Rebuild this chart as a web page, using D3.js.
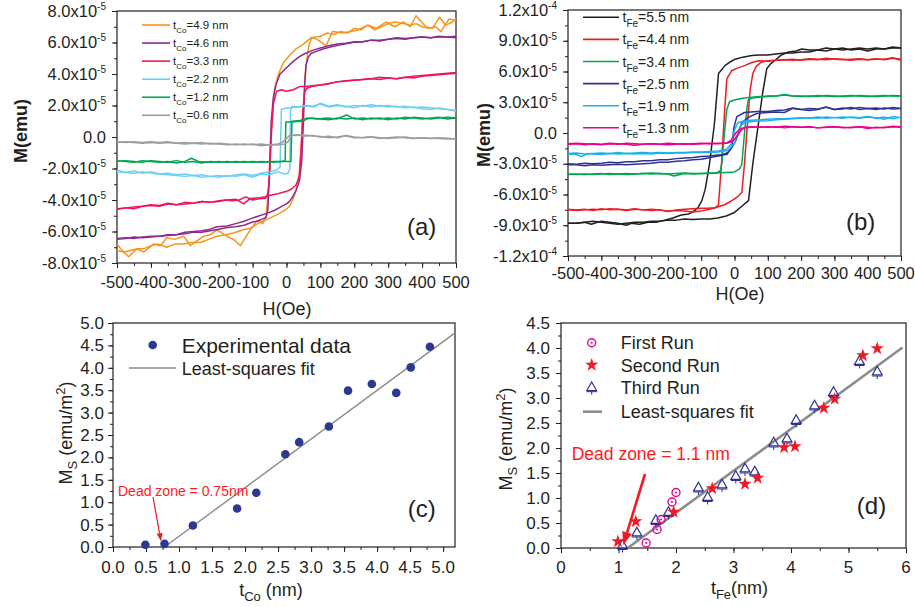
<!DOCTYPE html>
<html><head><meta charset="utf-8">
<script src="https://cdn.jsdelivr.net/npm/d3@7"></script>
<style>
body{margin:0;background:#fff;}
svg{display:block;font-family:"Liberation Sans",Arial,sans-serif;}
</style></head><body>
<svg id="chart" width="915" height="607"></svg>
<script>
// ---------------- Panel (a): M (1e-5 emu) vs H (Oe), Co thickness series ----------------
const aSeriesNames = ["4.9","4.6","3.3","2.2","1.2","0.6"];
const aColors = ["#f7941d","#8e2a8f","#ee1559","#6dcff6","#00a651","#9d9d9d"];
const a49Down = [[500,7.4],[480,7.5],[455,6.7],[440,7.0],[420,6.9],[400,7.0],[382,7.2],[365,7.1],[345,7.2],[320,7.3],[300,7.2],[280,7.0],[260,6.8],[240,7.1],[220,6.8],[200,6.9],[180,6.6],[160,6.7],[140,6.5],[120,6.6],[100,6.4],[72,6.3],[50,5.9],[28,5.6],[10,5.2],[-10,4.7],[-25,3.9],[-35,3.1],[-45,0.5],[-52,-3.0],[-60,-5.0],[-70,-5.5],[-87,-5.3],[-107,-5.9],[-136,-6.9],[-156,-6.5],[-176,-6.3],[-205,-5.9],[-225,-6.2],[-244,-6.3],[-264,-6.6],[-284,-6.9],[-303,-6.3],[-330,-6.5],[-353,-6.4],[-372,-6.9],[-392,-6.8],[-421,-7.3],[-441,-7.1],[-466,-7.6],[-485,-7.2],[-500,-6.8]];
const a49Up = [[-500,-7.2],[-480,-7.3],[-460,-7.2],[-440,-7.1],[-421,-7.1],[-400,-6.9],[-380,-6.8],[-353,-7.0],[-330,-6.8],[-303,-6.8],[-280,-6.7],[-254,-6.7],[-230,-6.5],[-205,-6.3],[-180,-6.2],[-156,-6.1],[-130,-5.9],[-107,-5.8],[-85,-5.5],[-65,-5.3],[-45,-5.1],[-25,-4.9],[-1,-4.6],[9,-4.4],[20,-3.9],[28,-3.4],[38,-2.3],[43,-0.6],[48,1.2],[55,4.0],[62,5.3],[67,5.9],[75,6.3],[90,6.2],[117,5.8],[136,6.7],[166,6.6],[190,6.7],[210,6.8],[240,7.1],[265,6.9],[293,7.3],[320,7.0],[345,7.3],[365,7.0],[382,7.7],[411,7.0],[431,6.9],[451,7.6],[470,7.1],[490,7.3],[500,7.5]];
const a46Down = [[500,6.4],[475,6.35],[450,6.4],[425,6.3],[400,6.35],[375,6.3],[350,6.25],[325,6.3],[300,6.2],[275,6.15],[250,6.15],[225,6.05],[200,6.05],[175,5.95],[150,5.9],[125,5.8],[100,5.65],[77,5.5],[55,5.3],[38,5.1],[20,4.8],[0,4.4],[-19,4.0],[-30,3.4],[-39,2.5],[-45,1.0],[-50,-2.0],[-55,-4.6],[-60,-5.1],[-70,-5.2],[-87,-5.35],[-100,-5.4],[-125,-5.6],[-150,-5.7],[-175,-5.75],[-200,-5.85],[-225,-5.95],[-250,-6.05],[-275,-6.05],[-300,-6.15],[-325,-6.2],[-350,-6.25],[-375,-6.3],[-400,-6.35],[-425,-6.4],[-450,-6.35],[-475,-6.45],[-500,-6.5]];
const a46Up = [[-500,-6.45],[-475,-6.4],[-450,-6.45],[-425,-6.35],[-400,-6.3],[-375,-6.3],[-350,-6.2],[-325,-6.2],[-300,-6.05],[-275,-6.0],[-250,-5.95],[-225,-5.85],[-205,-5.7],[-175,-5.65],[-150,-5.5],[-125,-5.35],[-107,-5.2],[-80,-5.0],[-58,-4.85],[-35,-4.65],[-18,-4.45],[0,-4.25],[8,-4.1],[18,-3.8],[28,-3.4],[38,-2.8],[45,-1.5],[50,1.0],[54,3.5],[58,4.6],[65,5.1],[72,5.3],[90,5.45],[110,5.6],[135,5.75],[160,5.85],[195,6.0],[225,6.05],[250,6.15],[275,6.1],[300,6.2],[325,6.25],[350,6.2],[375,6.3],[400,6.35],[425,6.3],[450,6.35],[475,6.35],[500,6.3]];
const a33Down = [[500,4.1],[475,4.05],[450,4.0],[425,3.95],[400,3.9],[375,3.85],[350,3.8],[325,3.7],[300,3.75],[275,3.8],[250,3.7],[225,3.65],[200,3.6],[175,3.55],[150,3.5],[125,3.4],[100,3.3],[75,3.25],[55,3.2],[38,3.2],[20,3.0],[0,2.9],[-15,3.0],[-29,2.9],[-39,2.1],[-45,0.0],[-50,-2.5],[-55,-3.6],[-62,-3.9],[-77,-3.9],[-100,-4.0],[-120,-3.8],[-140,-4.0],[-160,-4.05],[-180,-4.0],[-200,-4.1],[-225,-4.15],[-250,-4.1],[-275,-4.2],[-300,-4.25],[-325,-4.3],[-350,-4.2],[-375,-4.35],[-400,-4.3],[-425,-4.4],[-450,-4.45],[-475,-4.5],[-500,-4.55]];
const a33Up = [[-500,-4.6],[-475,-4.5],[-450,-4.55],[-425,-4.4],[-402,-4.35],[-375,-4.4],[-350,-4.25],[-325,-4.3],[-300,-4.15],[-275,-4.2],[-250,-4.1],[-225,-4.15],[-200,-4.05],[-175,-4.0],[-150,-3.95],[-126,-4.25],[-107,-3.9],[-80,-3.85],[-60,-3.8],[-48,-3.7],[-25,-3.6],[0,-3.45],[15,-3.3],[28,-3.05],[38,-2.5],[44,-0.5],[48,1.5],[53,2.8],[60,3.1],[75,3.2],[97,3.3],[120,3.35],[147,3.5],[170,3.55],[195,3.6],[225,3.65],[250,3.7],[275,3.65],[300,3.75],[325,3.7],[350,3.8],[375,3.75],[400,3.85],[425,3.9],[450,3.95],[475,4.0],[500,4.05]];
const a22Down = [[500,1.7],[475,1.75],[450,1.85],[425,1.75],[400,1.8],[375,1.9],[350,1.85],[325,1.95],[300,1.9],[275,2.0],[250,1.9],[225,2.0],[200,1.85],[175,1.95],[150,2.0],[125,1.9],[100,2.1],[75,1.95],[50,1.95],[30,1.9],[10,1.85],[-10,1.8],[-15,1.75],[-17,0.0],[-19,-1.9],[-29,-2.1],[-49,-2.2],[-75,-2.3],[-100,-2.45],[-125,-2.35],[-150,-2.4],[-175,-2.5],[-200,-2.45],[-225,-2.5],[-250,-2.4],[-275,-2.45],[-300,-2.35],[-325,-2.4],[-350,-2.3],[-375,-2.35],[-400,-2.2],[-425,-2.3],[-450,-2.15],[-475,-2.25],[-500,-2.1]];
const a22Up = [[-500,-2.2],[-475,-2.25],[-450,-2.3],[-425,-2.2],[-400,-2.3],[-375,-2.35],[-350,-2.4],[-325,-2.45],[-300,-2.5],[-275,-2.45],[-250,-2.55],[-225,-2.5],[-200,-2.55],[-175,-2.45],[-150,-2.5],[-125,-2.4],[-100,-2.55],[-75,-2.35],[-50,-2.4],[-25,-2.2],[-5,-2.35],[5,-2.3],[10,-2.0],[11,0.0],[12,1.7],[17,1.95],[38,1.9],[60,2.0],[80,1.9],[100,2.15],[125,1.95],[150,2.05],[175,1.9],[200,2.0],[225,1.95],[250,2.05],[275,1.95],[300,2.0],[325,1.9],[350,1.95],[375,1.85],[400,1.9],[425,1.85],[450,1.8],[475,1.75],[500,1.65]];
const a12Down = [[500,1.2],[475,1.15],[450,1.25],[425,1.2],[400,1.15],[375,1.2],[350,1.25],[325,1.15],[300,1.2],[275,1.15],[250,1.2],[225,1.1],[200,1.2],[177,1.15],[150,1.2],[125,1.1],[100,1.15],[75,1.2],[60,1.15],[50,1.0],[30,0.98],[15,0.95],[-2,0.95],[-4,-1.5],[-15,-1.55],[-40,-1.6],[-75,-1.55],[-100,-1.6],[-125,-1.55],[-150,-1.6],[-175,-1.55],[-200,-1.6],[-225,-1.55],[-250,-1.65],[-275,-1.55],[-300,-1.6],[-325,-1.5],[-350,-1.6],[-375,-1.55],[-400,-1.5],[-425,-1.6],[-450,-1.55],[-475,-1.5],[-500,-1.55]];
const a12Up = [[-500,-1.5],[-475,-1.55],[-450,-1.6],[-425,-1.5],[-400,-1.55],[-375,-1.6],[-350,-1.55],[-325,-1.65],[-300,-1.55],[-280,-1.35],[-260,-1.55],[-225,-1.6],[-200,-1.55],[-175,-1.6],[-150,-1.55],[-125,-1.6],[-100,-1.55],[-75,-1.6],[-50,-1.55],[-25,-1.55],[0,-1.55],[13,-1.55],[15,0.0],[16,1.0],[40,1.05],[60,1.2],[90,1.15],[120,1.2],[150,1.15],[177,1.4],[200,1.15],[225,1.2],[250,1.15],[275,1.2],[300,1.1],[325,1.2],[350,1.15],[375,1.25],[400,1.2],[425,1.15],[450,1.2],[475,1.25],[500,1.2]];
const a06Down = [[500,-0.12],[475,-0.08],[450,-0.05],[425,-0.1],[400,-0.05],[375,-0.08],[350,0.0],[325,-0.05],[300,-0.1],[275,-0.05],[250,0.02],[225,-0.03],[200,-0.05],[175,0.08],[150,0.0],[125,-0.05],[100,0.03],[75,0.08],[50,0.12],[25,0.1],[10,0.12],[0,-0.1],[-10,-0.3],[-25,-0.45],[-50,-0.5],[-75,-0.45],[-100,-0.5],[-125,-0.45],[-150,-0.5],[-175,-0.45],[-200,-0.4],[-225,-0.45],[-250,-0.35],[-275,-0.4],[-300,-0.35],[-325,-0.4],[-350,-0.3],[-375,-0.35],[-400,-0.3],[-425,-0.35],[-450,-0.3],[-475,-0.35],[-500,-0.3]];
const a06Up = [[-500,-0.35],[-475,-0.3],[-450,-0.35],[-425,-0.4],[-400,-0.35],[-375,-0.4],[-350,-0.35],[-325,-0.4],[-300,-0.45],[-275,-0.4],[-250,-0.45],[-225,-0.4],[-200,-0.45],[-175,-0.5],[-150,-0.45],[-125,-0.5],[-100,-0.45],[-75,-0.55],[-50,-0.5],[-25,-0.5],[-5,-0.45],[5,-0.3],[15,0.1],[30,0.15],[50,0.05],[75,0.1],[100,0.0],[125,0.05],[150,-0.05],[175,0.1],[200,0.0],[225,-0.05],[250,0.0],[275,-0.1],[300,-0.05],[325,0.0],[350,-0.05],[375,-0.1],[400,-0.05],[425,-0.08],[450,-0.1],[475,-0.12],[500,-0.1]];
const aXTicks = [-500,-400,-300,-200,-100,0,100,200,300,400,500];
const aYTicks = [-8,-6,-4,-2,0,2,4,6,8];
const aYLabels = [["-8.0x10","-5"],["-6.0x10","-5"],["-4.0x10","-5"],["-2.0x10","-5"],["0.0",""],["2.0x10","-5"],["4.0x10","-5"],["6.0x10","-5"],["8.0x10","-5"]];

// ---------------- Panel (b): M (1e-5 emu) vs H (Oe), Fe thickness series ----------------
const bSeriesNames = ["5.5","4.4","3.4","2.5","1.9","1.3"];
const bColors = ["#231f20","#ed1c24","#00a651","#2e3192","#1ab0ec","#ec008c"];
const b55Down = [[500,8.3],[475,8.4],[450,8.2],[425,8.3],[400,8.2],[375,8.3],[350,8.2],[325,8.1],[300,8.2],[275,8.0],[250,8.1],[225,7.9],[200,7.9],[175,7.8],[150,7.8],[125,7.7],[100,7.6],[75,7.6],[52,7.55],[25,7.4],[2,7.2],[-15,6.9],[-28,6.6],[-48,5.8],[-60,1.0],[-75,-3.0],[-88,-5.5],[-98,-6.6],[-110,-7.3],[-125,-7.7],[-138,-7.9],[-160,-8.0],[-185,-8.3],[-210,-8.5],[-235,-8.7],[-260,-8.7],[-285,-8.9],[-310,-8.8],[-325,-9.0],[-350,-8.8],[-375,-8.7],[-400,-8.6],[-430,-8.9],[-450,-8.7],[-475,-8.8],[-500,-8.8]];
const b55Up = [[-500,-8.8],[-475,-8.8],[-450,-8.7],[-425,-8.6],[-400,-8.7],[-375,-8.8],[-350,-8.9],[-325,-8.8],[-300,-8.7],[-275,-8.7],[-250,-8.6],[-225,-8.6],[-200,-8.5],[-175,-8.5],[-150,-8.4],[-125,-8.45],[-100,-8.4],[-75,-8.4],[-50,-8.3],[-25,-8.1],[0,-7.75],[20,-7.2],[42,-6.6],[55,-3.0],[70,0.5],[85,4.0],[97,6.3],[110,6.8],[122,7.1],[140,7.6],[162,7.9],[185,8.0],[202,8.2],[225,8.1],[250,8.1],[275,8.3],[300,8.2],[325,8.3],[350,8.1],[375,8.2],[400,8.0],[425,8.2],[450,8.2],[475,8.3],[500,8.3]];
const b44Down = [[500,7.2],[475,7.3],[450,7.15],[425,7.25],[400,7.15],[375,7.2],[350,7.1],[325,7.2],[300,7.25],[275,7.15],[250,7.2],[225,7.25],[200,7.15],[175,7.1],[150,7.15],[125,7.1],[100,7.0],[72,7.05],[50,6.85],[32,6.6],[10,6.35],[-8,6.1],[-23,5.3],[-30,2.0],[-38,-2.5],[-48,-7.0],[-58,-7.3],[-75,-7.45],[-100,-7.6],[-125,-7.7],[-150,-7.6],[-175,-7.55],[-200,-7.6],[-225,-7.5],[-250,-7.45],[-275,-7.5],[-300,-7.4],[-325,-7.5],[-350,-7.45],[-375,-7.4],[-400,-7.5],[-425,-7.45],[-450,-7.5],[-475,-7.55],[-500,-7.5]];
const b44Up = [[-500,-7.45],[-475,-7.5],[-450,-7.45],[-425,-7.55],[-400,-7.4],[-375,-7.5],[-350,-7.45],[-325,-7.55],[-300,-7.45],[-275,-7.5],[-250,-7.55],[-225,-7.5],[-200,-7.65],[-175,-7.5],[-150,-7.45],[-125,-7.4],[-100,-7.35],[-80,-7.35],[-58,-7.3],[-30,-7.0],[-8,-6.6],[10,-6.2],[22,-5.8],[30,-3.0],[38,0.5],[47,4.2],[55,5.8],[65,6.5],[80,6.9],[100,7.05],[125,7.1],[150,7.15],[175,7.2],[200,7.1],[225,7.2],[250,7.15],[275,7.3],[300,7.2],[325,7.15],[350,7.2],[375,7.25],[400,7.15],[425,7.2],[450,7.2],[475,7.35],[500,7.1]];
const b34Down = [[500,3.6],[475,3.65],[450,3.6],[425,3.55],[400,3.6],[375,3.65],[350,3.6],[325,3.55],[300,3.6],[275,3.65],[250,3.55],[225,3.6],[200,3.55],[175,3.6],[150,3.7],[125,3.6],[100,3.6],[77,3.55],[50,3.5],[25,3.4],[2,3.25],[-15,3.05],[-23,2.3],[-30,0.0],[-38,-3.0],[-43,-3.7],[-55,-3.9],[-75,-3.95],[-100,-3.95],[-125,-4.0],[-150,-3.95],[-182,-4.2],[-200,-4.0],[-225,-3.95],[-250,-4.0],[-275,-3.95],[-300,-4.0],[-325,-4.05],[-350,-4.0],[-375,-3.95],[-400,-4.0],[-425,-4.05],[-450,-4.0],[-475,-4.05],[-500,-4.0]];
const b34Up = [[-500,-4.05],[-475,-4.0],[-450,-4.05],[-425,-4.0],[-400,-3.95],[-375,-4.05],[-350,-4.0],[-325,-3.95],[-300,-4.0],[-275,-3.95],[-250,-3.9],[-225,-3.95],[-200,-4.0],[-175,-3.95],[-150,-3.9],[-125,-3.95],[-100,-3.95],[-75,-3.9],[-50,-3.9],[-25,-3.85],[0,-3.8],[15,-3.5],[22,-3.05],[30,0.0],[38,2.6],[42,3.3],[60,3.45],[80,3.5],[100,3.55],[125,3.6],[150,3.75],[175,3.6],[200,3.6],[225,3.55],[250,3.65],[275,3.6],[300,3.55],[325,3.6],[350,3.65],[375,3.6],[400,3.55],[425,3.6],[450,3.65],[475,3.6],[500,3.6]];
const b25Down = [[500,2.4],[475,2.5],[450,2.35],[425,2.45],[400,2.4],[375,2.5],[350,2.35],[325,2.45],[300,2.3],[275,2.5],[250,2.35],[225,2.4],[200,2.3],[175,2.45],[150,2.25],[125,2.2],[100,2.1],[67,2.1],[30,2.0],[7,1.6],[-2,0.5],[-8,-1.4],[-20,-1.9],[-40,-2.2],[-73,-2.4],[-100,-2.55],[-125,-2.6],[-150,-2.7],[-175,-2.75],[-200,-2.85],[-225,-2.85],[-250,-2.95],[-275,-3.0],[-300,-3.05],[-325,-3.1],[-350,-3.05],[-375,-3.1],[-400,-3.15],[-425,-3.1],[-450,-3.2],[-475,-3.1],[-500,-3.1]];
const b25Up = [[-500,-3.0],[-475,-3.05],[-450,-2.95],[-425,-3.0],[-400,-2.95],[-375,-2.85],[-350,-2.9],[-325,-2.8],[-300,-2.8],[-275,-2.7],[-250,-2.7],[-225,-2.6],[-200,-2.6],[-175,-2.5],[-150,-2.45],[-125,-2.4],[-100,-2.3],[-75,-2.25],[-50,-2.15],[-23,-2.1],[0,-1.0],[7,-0.5],[15,0.4],[22,1.0],[40,1.5],[67,1.9],[100,2.0],[125,2.05],[150,2.0],[175,2.4],[200,2.3],[225,2.2],[250,2.3],[275,2.55],[300,2.3],[325,2.35],[350,2.5],[375,2.3],[400,2.4],[425,2.3],[450,2.45],[475,2.35],[500,2.4]];
const b19Down = [[500,1.5],[475,1.6],[450,1.35],[425,1.5],[400,1.55],[375,1.45],[350,1.5],[325,1.55],[300,1.5],[275,1.45],[250,1.55],[225,1.45],[200,1.5],[175,1.45],[150,1.4],[125,1.4],[100,1.35],[75,1.3],[50,1.25],[25,1.15],[10,1.0],[0,0.3],[-10,-1.1],[-25,-1.6],[-50,-1.75],[-75,-1.8],[-100,-1.85],[-125,-1.85],[-150,-1.9],[-175,-1.9],[-200,-1.95],[-225,-1.9],[-250,-1.95],[-275,-1.9],[-300,-1.95],[-325,-2.0],[-350,-1.9],[-375,-2.0],[-400,-1.95],[-425,-2.0],[-450,-2.05],[-475,-1.95],[-500,-2.0]];
const b19Up = [[-500,-2.05],[-475,-2.1],[-460,-2.3],[-440,-2.0],[-425,-2.05],[-400,-2.1],[-375,-2.0],[-350,-2.05],[-325,-2.0],[-300,-2.05],[-275,-2.0],[-250,-2.05],[-225,-1.95],[-200,-2.0],[-175,-1.95],[-150,-1.95],[-125,-1.9],[-100,-1.9],[-75,-1.9],[-50,-1.85],[-20,-1.7],[0,-1.0],[10,0.0],[20,0.8],[35,1.05],[60,1.15],[100,1.2],[125,1.3],[150,1.35],[175,1.4],[200,1.45],[225,1.5],[250,1.45],[275,1.55],[300,1.5],[325,1.45],[350,1.55],[375,1.5],[400,1.6],[425,1.45],[450,1.55],[475,1.4],[500,1.55]];
const b13Down = [[500,0.6],[475,0.65],[450,0.5],[425,0.55],[400,0.45],[375,0.6],[350,0.55],[325,0.5],[300,0.6],[275,0.55],[250,0.5],[225,0.6],[200,0.55],[175,0.6],[150,0.65],[125,0.55],[100,0.6],[75,0.55],[50,0.6],[32,0.55],[20,0.45],[5,0.05],[-10,-0.7],[-23,-0.97],[-50,-1.05],[-75,-1.0],[-100,-1.05],[-125,-1.1],[-150,-1.05],[-175,-1.1],[-200,-1.15],[-225,-1.1],[-250,-1.05],[-275,-1.1],[-300,-1.05],[-325,-1.0],[-350,-1.1],[-375,-1.05],[-400,-1.15],[-425,-1.1],[-450,-1.05],[-475,-1.0],[-500,-1.05]];
const b13Up = [[-500,-1.1],[-475,-1.05],[-450,-1.15],[-425,-1.05],[-400,-1.1],[-375,-1.0],[-350,-1.05],[-325,-1.1],[-300,-1.2],[-275,-1.1],[-250,-1.05],[-225,-1.1],[-200,-1.0],[-175,-1.05],[-150,-1.1],[-125,-1.05],[-100,-1.0],[-75,-1.05],[-50,-1.0],[-23,-1.0],[-5,-0.8],[10,-0.2],[22,0.33],[32,0.5],[50,0.55],[75,0.6],[100,0.55],[125,0.6],[150,0.5],[175,0.6],[200,0.55],[225,0.6],[250,0.5],[275,0.55],[300,0.6],[325,0.55],[350,0.5],[375,0.6],[400,0.55],[425,0.5],[450,0.55],[475,0.6],[500,0.55]];
const bXTicks = [-500,-400,-300,-200,-100,0,100,200,300,400,500];
const bYTicks = [-12,-9,-6,-3,0,3,6,9,12];
const bYLabels = [["-1.2x10","-4"],["-9.0x10","-5"],["-6.0x10","-5"],["-3.0x10","-5"],["0.0",""],["3.0x10","-5"],["6.0x10","-5"],["9.0x10","-5"],["1.2x10","-4"]];

// ---------------- Panel (c): Ms vs tCo ----------------
const cX = [0.49,0.78,1.21,1.88,2.17,2.61,2.82,3.27,3.56,3.92,4.29,4.51,4.80];
const cY = [0.05,0.07,0.48,0.86,1.21,2.07,2.34,2.69,3.49,3.64,3.44,4.01,4.47];
const cFitX = [0.78,5.18];
const cFitY = [0.0,4.78];
const cXTicks = [0,0.5,1,1.5,2,2.5,3,3.5,4,4.5,5];
const cYTicks = [0,0.5,1,1.5,2,2.5,3,3.5,4,4.5,5];

// ---------------- Panel (d): Ms vs tFe ----------------
const dFirstX = [1.48,1.67,1.74,1.93,2.00];
const dFirstY = [0.10,0.37,0.57,0.92,1.11];
const dSecondX = [0.99,1.30,1.96,2.63,3.20,3.42,3.88,4.07,4.57,4.76,5.25,5.50];
const dSecondY = [0.13,0.53,0.72,1.19,1.28,1.40,2.01,2.03,2.80,2.98,3.85,3.99];
const dThirdX = [1.07,1.32,1.65,1.87,2.39,2.55,2.80,3.04,3.20,3.37,3.70,3.93,4.09,4.41,4.74,5.19,5.50];
const dThirdY = [0.05,0.30,0.55,0.71,1.20,1.01,1.26,1.43,1.58,1.52,2.10,2.18,2.55,2.84,3.11,3.73,3.52];
const dFitX = [1.16,5.94];
const dFitY = [0.0,4.01];
const dXTicks = [0,1,2,3,4,5,6];
const dYTicks = [0,0.5,1,1.5,2,2.5,3,3.5,4,4.5];

// =====================================================================
const svg = d3.select("#chart");
const INK = "#231f20";

function axes(x, y, xMajor, xMinor, yMajor, yMinor) {
  const [xl, xr] = x.range(), [yb, yt] = y.range();
  const g = svg.append("g").attr("color", INK);
  const clean = s => { s.select(".domain").remove(); s.selectAll("line").attr("stroke-width", 1); };
  g.append("g").attr("transform", `translate(0,${yb})`).call(d3.axisBottom(x).tickValues(xMinor).tickSize(3).tickFormat("")).call(clean);
  g.append("g").attr("transform", `translate(0,${yb})`).call(d3.axisBottom(x).tickValues(xMajor).tickSize(5).tickFormat("")).call(clean);
  g.append("g").attr("transform", `translate(${xl},0)`).call(d3.axisLeft(y).tickValues(yMinor).tickSize(3).tickFormat("")).call(clean);
  g.append("g").attr("transform", `translate(${xl},0)`).call(d3.axisLeft(y).tickValues(yMajor).tickSize(5).tickFormat("")).call(clean);
  g.append("rect").attr("x", xl).attr("y", yt).attr("width", xr - xl).attr("height", yb - yt)
    .attr("fill", "none").attr("stroke", INK).attr("stroke-width", 1.2);
}
function range(a, b, s) { const r = []; for (let v = a; v <= b + 1e-9; v += s) r.push(+v.toFixed(4)); return r; }

function rich(x, y, parts, anchor, rotate) {
  const t = svg.append("text").attr("fill", INK).attr("text-anchor", anchor || "start");
  if (rotate) t.attr("transform", `translate(${x},${y}) rotate(-90)`);
  else t.attr("x", x).attr("y", y);
  parts.forEach(p => {
    const s = t.append("tspan").text(p.t).attr("font-size", p.s);
    if (p.dy) s.attr("dy", p.dy);
    if (p.w) s.attr("font-weight", p.w);
    if (p.c) s.attr("fill", p.c);
  });
  return t;
}

// ---------- Panel (a) ----------
const xa = d3.scaleLinear().domain([-500, 500]).range([117, 456]);
const ya = d3.scaleLinear().domain([-8, 8]).range([263, 11]);
axes(xa, ya, aXTicks, range(-500, 500, 50), aYTicks, range(-8, 8, 1));
const la = d3.line().x(d => xa(d[0])).y(d => ya(d[1]));
const aBranches = [[a49Down,a49Up],[a46Down,a46Up],[a33Down,a33Up],[a22Down,a22Up],[a12Down,a12Up],[a06Down,a06Up]];
aBranches.forEach((br, i) => br.forEach(b => svg.append("path").attr("d", la(b)).attr("fill", "none")
  .attr("stroke", aColors[i]).attr("stroke-width", 1.5).attr("stroke-linejoin", "round")));
aXTicks.forEach(v => svg.append("text").attr("x", xa(v)).attr("y", 287.5).attr("text-anchor", "middle")
  .attr("font-size", 16.5).attr("fill", INK).text(String(v)));
aYTicks.forEach((v, i) => rich(106, ya(v) + 5.5, [{t: aYLabels[i][0], s: 16.5}, {t: aYLabels[i][1], s: 10, dy: -7}], "end"));
aSeriesNames.forEach((n, i) => {
  const yy = 25 + i * 18.06;
  svg.append("line").attr("x1", 142).attr("x2", 170).attr("y1", yy).attr("y2", yy).attr("stroke", aColors[i]).attr("stroke-width", 1.6);
  rich(173, yy + 4, [{t: "t", s: 11.5}, {t: "Co", s: 8, dy: 4}, {t: "=" + n + " nm", s: 11.5, dy: -4}]);
});
rich(26.5, 131, [{t: "M(emu)", s: 18, w: "bold"}], "middle", true);
rich(287, 314.5, [{t: "H(Oe)", s: 18}], "middle");
rich(407, 235, [{t: "(a)", s: 24}]);

// ---------- Panel (b) ----------
const xb = d3.scaleLinear().domain([-500, 500]).range([568, 901]);
const yb = d3.scaleLinear().domain([-12, 12]).range([256, 10]);
axes(xb, yb, bXTicks, range(-500, 500, 50), bYTicks, range(-12, 12, 1.5));
const lb = d3.line().x(d => xb(d[0])).y(d => yb(d[1]));
const bBranches = [[b55Down,b55Up],[b44Down,b44Up],[b34Down,b34Up],[b25Down,b25Up],[b19Down,b19Up],[b13Down,b13Up]];
bBranches.forEach((br, i) => br.forEach(b => svg.append("path").attr("d", lb(b)).attr("fill", "none")
  .attr("stroke", bColors[i]).attr("stroke-width", 1.5).attr("stroke-linejoin", "round")));
bXTicks.forEach(v => svg.append("text").attr("x", xb(v)).attr("y", 279).attr("text-anchor", "middle")
  .attr("font-size", 16.5).attr("fill", INK).text(String(v)));
bYTicks.forEach((v, i) => rich(557, yb(v) + 5.5, [{t: bYLabels[i][0], s: 16.5}, {t: bYLabels[i][1], s: 10, dy: -6.5}], "end"));
bSeriesNames.forEach((n, i) => {
  const yy = 17.3 + i * 22.1;
  svg.append("line").attr("x1", 583).attr("x2", 619).attr("y1", yy).attr("y2", yy).attr("stroke", bColors[i]).attr("stroke-width", 1.6);
  rich(622.5, yy + 5, [{t: "t", s: 14}, {t: "Fe", s: 10, dy: 5}, {t: "=" + n + " nm", s: 14, dy: -5}]);
});
rich(489.5, 135, [{t: "M(emu)", s: 18, w: "bold"}], "middle", true);
rich(740, 299.5, [{t: "H(Oe)", s: 18}], "middle");
rich(846, 230, [{t: "(b)", s: 24}]);

// ---------- Panel (c) ----------
const xc = d3.scaleLinear().domain([0, 5.18]).range([113, 455]);
const yc = d3.scaleLinear().domain([0, 5]).range([547, 323]);
axes(xc, yc, cXTicks, range(0, 5, 0.25), cYTicks, range(0, 5, 0.25));
svg.append("line").attr("x1", xc(cFitX[0])).attr("y1", yc(cFitY[0])).attr("x2", xc(cFitX[1])).attr("y2", yc(cFitY[1]))
  .attr("stroke", "#8a8a8a").attr("stroke-width", 1.4);
cX.forEach((v, i) => svg.append("circle").attr("cx", xc(v)).attr("cy", yc(cY[i])).attr("r", 4.3).attr("fill", "#2b3990"));
cXTicks.forEach(v => svg.append("text").attr("x", xc(v)).attr("y", 572.5).attr("text-anchor", "middle")
  .attr("font-size", 17).attr("fill", INK).text(v.toFixed(1)));
cYTicks.forEach(v => svg.append("text").attr("x", 104).attr("y", yc(v) + 6).attr("text-anchor", "end")
  .attr("font-size", 17).attr("fill", INK).text(v.toFixed(1)));
svg.append("circle").attr("cx", 152.7).attr("cy", 345).attr("r", 4.3).attr("fill", "#2b3990");
rich(181.7, 352.5, [{t: "Experimental data", s: 21}]);
svg.append("line").attr("x1", 129).attr("x2", 176).attr("y1", 368).attr("y2", 368).attr("stroke", "#8a8a8a").attr("stroke-width", 1.4);
rich(181.7, 374.5, [{t: "Least-squares fit", s: 18}]);
rich(118, 496, [{t: "Dead zone = 0.75nm", s: 14, c: "#ff1a1a"}]);
function arrow(x1, y1, x2, y2, w, head, hw) {
  const ang = Math.atan2(y2 - y1, x2 - x1);
  const bx = x2 - head * Math.cos(ang), by = y2 - head * Math.sin(ang);
  svg.append("line").attr("x1", x1).attr("y1", y1).attr("x2", bx).attr("y2", by).attr("stroke", "#ed1c24").attr("stroke-width", w);
  const px = -Math.sin(ang) * hw, py = Math.cos(ang) * hw;
  svg.append("path").attr("d", `M${x2},${y2}L${bx + px},${by + py}L${bx - px},${by - py}Z`).attr("fill", "#ed1c24");
}
arrow(xc(0.606), yc(1.116), xc(0.727), yc(0.13), 1.2, 8, 3);
rich(421.7, 517, [{t: "(c)", s: 24}], "middle");
rich(71.5, 433, [{t: "M", s: 18}, {t: "S", s: 13, dy: 5}, {t: " (emu/m", s: 18, dy: -5}, {t: "2", s: 13, dy: -7}, {t: ")", s: 18, dy: 7}], "middle", true);
rich(271, 596, [{t: "t", s: 18}, {t: "Co", s: 13, dy: 5}, {t: " (nm)", s: 18, dy: -5}], "middle");

// ---------- Panel (d) ----------
const xd = d3.scaleLinear().domain([0, 6]).range([561, 906]);
const yd = d3.scaleLinear().domain([0, 4.5]).range([548, 323]);
axes(xd, yd, dXTicks, range(0, 6, 0.5), dYTicks, range(0, 4.5, 0.25));
svg.append("line").attr("x1", xd(dFitX[0])).attr("y1", yd(dFitY[0])).attr("x2", xd(dFitX[1])).attr("y2", yd(dFitY[1]))
  .attr("stroke", "#8c8c8c").attr("stroke-width", 2.6);
const NAVY = "#2e3192", MAG = "#ec008c", RED = "#ed1c24";
function tri(x, y) {
  svg.append("path").attr("d", d3.symbol(d3.symbolTriangle, 42)()).attr("transform", `translate(${x},${y})`)
    .attr("fill", "none").attr("stroke", NAVY).attr("stroke-width", 1.2);
  svg.append("line").attr("x1", x - 5).attr("x2", x + 5).attr("y1", y + 4).attr("y2", y + 4).attr("stroke", NAVY).attr("stroke-width", 1);
  svg.append("line").attr("x1", x).attr("x2", x).attr("y1", y + 4).attr("y2", y + 7).attr("stroke", NAVY).attr("stroke-width", 1);
}
function ring(x, y) {
  svg.append("circle").attr("cx", x).attr("cy", y).attr("r", 4).attr("fill", "none").attr("stroke", MAG).attr("stroke-width", 1.4);
  svg.append("circle").attr("cx", x).attr("cy", y).attr("r", 1).attr("fill", MAG);
}
function star(x, y) {
  svg.append("path").attr("d", d3.symbol(d3.symbolStar, 55)()).attr("transform", `translate(${x},${y})`).attr("fill", RED);
}
dThirdX.forEach((v, i) => tri(xd(v), yd(dThirdY[i])));
dFirstX.forEach((v, i) => ring(xd(v), yd(dFirstY[i])));
dSecondX.forEach((v, i) => star(xd(v), yd(dSecondY[i])));
dXTicks.forEach(v => svg.append("text").attr("x", xd(v)).attr("y", 572.5).attr("text-anchor", "middle")
  .attr("font-size", 17).attr("fill", INK).text(String(v)));
dYTicks.forEach(v => svg.append("text").attr("x", 550).attr("y", yd(v) + 6).attr("text-anchor", "end")
  .attr("font-size", 17).attr("fill", INK).text(v.toFixed(1)));
ring(591.7, 342.7); star(591.7, 365); tri(591.7, 387.7);
svg.append("line").attr("x1", 583).attr("x2", 602).attr("y1", 411.7).attr("y2", 411.7).attr("stroke", "#8c8c8c").attr("stroke-width", 2.6);
rich(620.7, 349, [{t: "First Run", s: 18}]);
rich(620.7, 371.5, [{t: "Second Run", s: 18}]);
rich(620.7, 394.2, [{t: "Third Run", s: 18}]);
rich(620.7, 418.2, [{t: "Least-squares fit", s: 18}]);
rich(571.7, 460.3, [{t: "Dead zone = 1.1 nm", s: 17.5, c: "#ff1a1a"}]);
arrow(xd(1.461), yd(1.48), xd(1.083), yd(0.06), 2.6, 13, 5);
rich(871.5, 514, [{t: "(d)", s: 24}], "middle");
rich(511.5, 439, [{t: "M", s: 18}, {t: "S", s: 13, dy: 5}, {t: " (emu/m", s: 18, dy: -5}, {t: "2", s: 13, dy: -7}, {t: ")", s: 18, dy: 7}], "middle", true);
rich(739.5, 594, [{t: "t", s: 18}, {t: "Fe", s: 13, dy: 5}, {t: "(nm)", s: 18, dy: -5}], "middle");
</script>
</body></html>
